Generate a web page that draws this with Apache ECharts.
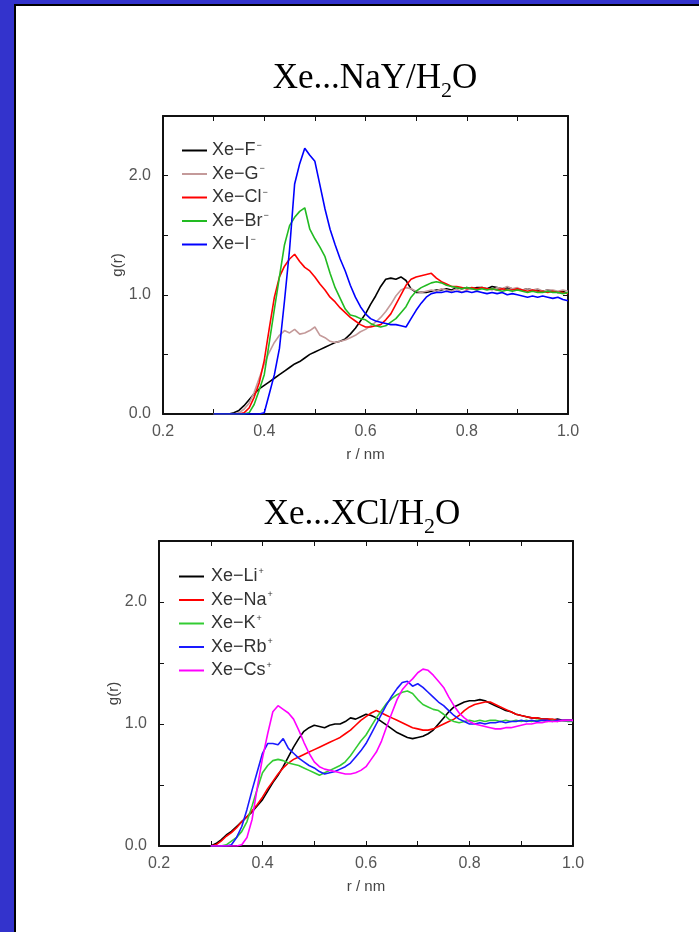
<!DOCTYPE html>
<html>
<head>
<meta charset="utf-8">
<title>Xe radial distribution functions</title>
<script src="https://cdn.jsdelivr.net/npm/echarts@6/dist/echarts.min.js"></script>
<style>
  html, body { margin: 0; padding: 0; background: #3333cc; }
  #frame { position: absolute; left: 14px; top: 4px; width: 683px; height: 926px;
           border-left: 2px solid #000; border-top: 2px solid #000; background: #fff; }
  #main { position: absolute; left: 0; top: 0; width: 699px; height: 932px; }
</style>
</head>
<body>
<div id="frame"></div>
<div id="main"></div>
<script>
// r grid (nm), shared by every curve
const rNm = [0.30,0.31,0.32,0.33,0.34,0.35,0.36,0.37,0.38,0.39,
  0.40,0.41,0.42,0.43,0.44,0.45,0.46,0.47,0.48,0.49,
  0.50,0.51,0.52,0.53,0.54,0.55,0.56,0.57,0.58,0.59,
  0.60,0.61,0.62,0.63,0.64,0.65,0.66,0.67,0.68,0.69,
  0.70,0.71,0.72,0.73,0.74,0.75,0.76,0.77,0.78,0.79,
  0.80,0.81,0.82,0.83,0.84,0.85,0.86,0.87,0.88,0.89,
  0.90,0.91,0.92,0.93,0.94,0.95,0.96,0.97,0.98,0.99,1.00];

// Xe...NaY/H2O : g(r) for the anions
const gF = [0,0,0,0,0.01,0.03,0.07,0.12,0.17,0.21,
  0.24,0.27,0.30,0.33,0.36,0.39,0.42,0.44,0.47,0.50,
  0.52,0.54,0.56,0.58,0.60,0.61,0.63,0.67,0.72,0.78,
  0.84,0.92,0.99,1.07,1.13,1.14,1.13,1.15,1.12,1.05,
  1.02,1.02,1.02,1.03,1.04,1.04,1.05,1.04,1.06,1.05,
  1.06,1.05,1.06,1.06,1.05,1.07,1.06,1.05,1.06,1.05,
  1.05,1.04,1.05,1.04,1.04,1.03,1.04,1.03,1.02,1.03,1.01];
const gG = [0,0,0,0,0,0.01,0.04,0.09,0.18,0.30,
  0.42,0.52,0.60,0.66,0.70,0.68,0.71,0.67,0.68,0.70,
  0.73,0.66,0.64,0.61,0.60,0.61,0.62,0.64,0.66,0.69,
  0.71,0.74,0.77,0.81,0.86,0.92,0.99,1.04,1.06,1.05,
  1.03,1.02,1.03,1.04,1.03,1.05,1.04,1.03,1.05,1.02,
  1.04,1.05,1.04,1.06,1.05,1.04,1.06,1.05,1.07,1.05,
  1.06,1.04,1.05,1.04,1.05,1.03,1.04,1.04,1.03,1.04,1.03];
const gCl = [0,0,0,0,0,0,0.01,0.05,0.14,0.26,
  0.45,0.72,0.98,1.15,1.24,1.30,1.34,1.28,1.23,1.20,
  1.15,1.09,1.04,0.98,0.94,0.89,0.85,0.81,0.78,0.75,
  0.73,0.73,0.74,0.75,0.79,0.84,0.92,1.00,1.08,1.13,
  1.15,1.16,1.17,1.18,1.14,1.11,1.09,1.07,1.07,1.06,
  1.05,1.06,1.05,1.06,1.05,1.05,1.04,1.05,1.04,1.04,
  1.05,1.04,1.03,1.04,1.03,1.03,1.02,1.03,1.02,1.02,1.01];
const gBr = [0,0,0,0,0,0,0,0.01,0.08,0.20,
  0.33,0.60,0.88,1.15,1.42,1.58,1.65,1.70,1.73,1.55,
  1.47,1.40,1.32,1.18,1.06,0.97,0.88,0.83,0.82,0.80,
  0.79,0.76,0.74,0.73,0.74,0.77,0.80,0.85,0.90,0.98,
  1.03,1.06,1.08,1.10,1.11,1.10,1.08,1.07,1.06,1.05,
  1.06,1.05,1.04,1.05,1.04,1.05,1.04,1.03,1.04,1.03,
  1.04,1.03,1.02,1.03,1.02,1.02,1.03,1.02,1.02,1.01,1.02];
const gI = [0,0,0,0,0,0,0,0,0,0,
  0.01,0.17,0.33,0.55,0.95,1.38,1.93,2.10,2.23,2.17,
  2.12,1.92,1.72,1.55,1.42,1.30,1.20,1.08,0.98,0.90,
  0.84,0.80,0.78,0.77,0.76,0.75,0.75,0.74,0.73,0.80,
  0.87,0.93,0.98,1.01,1.02,1.02,1.03,1.02,1.03,1.02,
  1.03,1.02,1.03,1.02,1.01,1.02,1.01,1.02,1.00,1.01,
  1.00,0.99,0.98,0.99,0.98,0.99,0.98,0.97,0.98,0.96,0.95];

// Xe...XCl/H2O : g(r) for the cations
const gLi = [0,0.02,0.05,0.09,0.12,0.16,0.20,0.24,0.28,0.33,
  0.38,0.45,0.52,0.58,0.65,0.73,0.81,0.88,0.94,0.97,
  0.99,0.98,0.97,0.99,1.00,1.00,1.02,1.05,1.04,1.06,
  1.08,1.07,1.05,1.02,0.99,0.96,0.93,0.91,0.89,0.88,
  0.89,0.90,0.92,0.95,1.00,1.05,1.10,1.14,1.16,1.18,
  1.19,1.19,1.20,1.19,1.17,1.15,1.13,1.11,1.10,1.08,
  1.07,1.06,1.05,1.05,1.04,1.04,1.03,1.04,1.03,1.03,1.03];
const gNa = [0,0.01,0.04,0.08,0.11,0.15,0.20,0.24,0.29,0.34,
  0.40,0.47,0.53,0.59,0.64,0.68,0.71,0.73,0.75,0.77,
  0.79,0.81,0.83,0.85,0.87,0.89,0.92,0.95,0.99,1.03,
  1.06,1.09,1.11,1.09,1.07,1.05,1.03,1.01,0.99,0.97,
  0.96,0.95,0.95,0.96,0.98,1.00,1.02,1.04,1.07,1.11,
  1.14,1.16,1.17,1.18,1.18,1.16,1.14,1.12,1.10,1.08,
  1.07,1.06,1.05,1.05,1.04,1.04,1.04,1.03,1.03,1.03,1.03];
const gK = [0,0,0,0.01,0.04,0.07,0.12,0.20,0.33,0.47,
  0.60,0.66,0.70,0.71,0.70,0.68,0.67,0.66,0.64,0.62,
  0.60,0.58,0.60,0.62,0.64,0.66,0.69,0.74,0.80,0.86,
  0.91,0.98,1.05,1.11,1.17,1.21,1.24,1.26,1.27,1.25,
  1.20,1.16,1.14,1.12,1.11,1.08,1.04,1.02,1.01,1.02,
  1.03,1.02,1.03,1.02,1.03,1.03,1.02,1.03,1.02,1.03,
  1.02,1.03,1.02,1.03,1.03,1.02,1.03,1.02,1.03,1.02,1.02];
const gRb = [0,0,0,0,0.01,0.07,0.16,0.30,0.46,0.61,
  0.76,0.84,0.84,0.83,0.88,0.80,0.76,0.72,0.69,0.66,
  0.64,0.61,0.59,0.60,0.61,0.63,0.65,0.68,0.73,0.78,
  0.84,0.92,1.00,1.08,1.16,1.23,1.29,1.34,1.35,1.31,
  1.33,1.30,1.26,1.22,1.18,1.15,1.11,1.07,1.04,1.02,
  1.00,1.00,1.01,1.00,1.01,1.01,1.02,1.01,1.02,1.02,
  1.03,1.02,1.03,1.02,1.03,1.03,1.02,1.03,1.03,1.03,1.03];
const gCs = [0,0,0,0,0,0,0.01,0.07,0.22,0.48,
  0.72,0.92,1.10,1.15,1.12,1.09,1.04,0.95,0.85,0.76,
  0.69,0.65,0.63,0.62,0.61,0.60,0.59,0.59,0.60,0.62,
  0.65,0.71,0.77,0.86,0.98,1.09,1.20,1.28,1.33,1.37,
  1.42,1.45,1.44,1.40,1.35,1.30,1.22,1.15,1.09,1.05,
  1.02,1.00,0.99,0.98,0.97,0.96,0.96,0.97,0.97,0.98,
  0.99,1.00,1.00,1.01,1.01,1.02,1.02,1.02,1.03,1.03,1.03];

const rTicks = { min: 0.2, max: 1.0, step: 0.1 };
const gTicks = { min: 0, max: 2.5, step: 0.5 };

const topNames = ['Xe\u2212F', 'Xe\u2212G', 'Xe\u2212Cl', 'Xe\u2212Br', 'Xe\u2212I'];
const topData = [gF, gG, gCl, gBr, gI];
const topColors = ['#000000', '#c49a9a', '#ff0000', '#22bb22', '#0000ff'];
const botNames = ['Xe\u2212Li', 'Xe\u2212Na', 'Xe\u2212K', 'Xe\u2212Rb', 'Xe\u2212Cs'];
const botData = [gLi, gNa, gK, gRb, gCs];
const botColors = ['#000000', '#ff0000', '#33cc33', '#1a1aff', '#ff00ff'];

const chart = echarts.init(document.getElementById('main'));
const FONT = 'Liberation Sans';

function xAx(grid, pos) {
  const main = pos === 'bottom';
  return {
    type: 'value', gridIndex: grid, position: pos,
    min: rTicks.min, max: rTicks.max, interval: rTicks.step,
    name: main ? 'r / nm' : '', nameLocation: 'middle', nameGap: 33,
    nameTextStyle: { fontFamily: FONT, fontSize: 15, color: '#444' },
    axisLine: { show: true, onZero: false, lineStyle: { color: '#111', width: 2 } },
    axisTick: { show: true, inside: true, length: 5, lineStyle: { color: '#111', width: 1 } },
    axisLabel: {
      show: main, margin: 10, fontFamily: FONT, fontSize: 16, color: '#555',
      formatter: v => (Math.round(v * 10) % 2 === 0 ? v.toFixed(1) : '')
    },
    splitLine: { show: false }
  };
}
function yAx(grid, pos) {
  const main = pos === 'left';
  return {
    type: 'value', gridIndex: grid, position: pos,
    min: gTicks.min, max: gTicks.max, interval: gTicks.step,
    name: main ? 'g(r)' : '', nameLocation: 'middle', nameGap: 38, nameMoveOverlap: false,
    nameTextStyle: { fontFamily: FONT, fontSize: 15, color: '#444' },
    axisLine: { show: true, lineStyle: { color: '#111', width: 2 } },
    axisTick: { show: true, inside: true, length: 5, lineStyle: { color: '#111', width: 1 } },
    axisLabel: {
      show: main, margin: 12, fontFamily: FONT, fontSize: 16, color: '#555',
      formatter: v => (Math.abs(v - Math.round(v)) < 1e-6 && v < 2.4 ? v.toFixed(1) : '')
    },
    splitLine: { show: false }
  };
}

function makeSeries(names, arrays, colors, grid) {
  return names.map((n, i) => ({
    name: n, type: 'line', xAxisIndex: grid * 2, yAxisIndex: grid * 2,
    showSymbol: false, symbol: 'none',
    lineStyle: { color: colors[i], width: 1.6 },
    itemStyle: { color: colors[i] },
    data: rNm.map((r, k) => [r, arrays[i][k]])
  }));
}

function makeLegend(names, sup, left, top, pad) {
  return {
    orient: 'vertical', left: left, top: top, data: names,
    icon: 'rect', itemWidth: 25, itemHeight: 2, itemGap: 4.5,
    selectedMode: false,
    formatter: n => '{n|' + n + '}{s|' + sup + '}',
    textStyle: {
      fontFamily: FONT, fontSize: 18, color: '#333', lineHeight: 19,
      rich: {
        n: { fontFamily: FONT, fontSize: 18, color: '#333', lineHeight: 19, padding: [0, 0, 0, pad] },
        s: { fontFamily: FONT, fontSize: 9, color: '#333', lineHeight: 19, verticalAlign: 'top', padding: [0, 0, 0, 1] }
      }
    }
  };
}

function titleText(x, y, pre) {
  return {
    type: 'text', x: x, y: y,
    style: {
      text: '{a|' + pre + '}{b|2}{a|O}',
      align: 'center', verticalAlign: 'middle',
      rich: {
        a: { fontFamily: 'Liberation Serif', fontSize: 35, color: '#000', lineHeight: 46, verticalAlign: 'middle' },
        b: { fontFamily: 'Liberation Serif', fontSize: 22, color: '#000', lineHeight: 20, verticalAlign: 'bottom' }
      }
    }
  };
}

chart.setOption({
  animation: false,
  grid: [
    { left: 163, top: 116, width: 405, height: 298 },
    { left: 159, top: 541, width: 414, height: 305 }
  ],
  xAxis: [xAx(0, 'bottom'), xAx(0, 'top'), xAx(1, 'bottom'), xAx(1, 'top')],
  yAxis: [yAx(0, 'left'), yAx(0, 'right'), yAx(1, 'left'), yAx(1, 'right')],
  legend: [
    makeLegend(topNames, '\u2212', 177, 136, 0),
    makeLegend(botNames, '+', 174, 562, 2)
  ],
  graphic: [
    titleText(375, 79, 'Xe...NaY/H'),
    titleText(362, 515, 'Xe...XCl/H')
  ],
  series: makeSeries(topNames, topData, topColors, 0).concat(makeSeries(botNames, botData, botColors, 1))
});
</script>
</body>
</html>
